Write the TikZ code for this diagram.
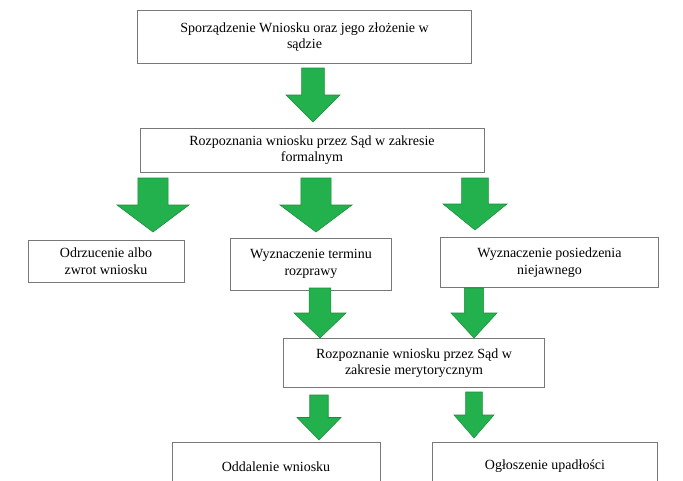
\documentclass[tikz,border=0pt]{standalone}
\usepackage{fontspec}
\setmainfont{Liberation Serif}
\usetikzlibrary{positioning}
\definecolor{arrowgreen}{RGB}{34,177,76}
\definecolor{boxline}{RGB}{120,120,120}
\tikzset{
  box/.style={draw=boxline, line width=0.6pt, fill=white, align=center,
    font=\fontsize{10.5}{12.5}\selectfont, inner sep=2pt},
  downarrow/.style={fill=arrowgreen, draw=arrowgreen!80!black, line width=0.4pt}
}
% #1 centre x, #2 top y, #3 bottom y, #4 head half width
\newcommand{\greendown}[4]{%
  \draw[downarrow] ({#1-#4*0.42},#2) -- ({#1+#4*0.42},#2)
    -- ({#1+#4*0.42},{#2+(#3-#2)*0.5}) -- ({#1+#4},{#2+(#3-#2)*0.5})
    -- (#1,#3) -- ({#1-#4},{#2+(#3-#2)*0.5})
    -- ({#1-#4*0.42},{#2+(#3-#2)*0.5}) -- cycle;}
\begin{document}
\begin{tikzpicture}[x=0.75pt,y=-0.75pt]
\useasboundingbox[fill=white] (0,0) rectangle (683,480);

% boxes
\node[box, minimum width=251pt, minimum height=40pt] (sporz) at (304.5,37) {Sporządzenie Wniosku oraz jego złożenie w\\sądzie};
\node[box, minimum width=258pt, minimum height=33pt] (formal) at (312,150) {Rozpoznania wniosku przez Sąd w zakresie\\formalnym};
\node[box, minimum width=117pt, minimum height=32pt] (odrz) at (106,261.5) {Odrzucenie albo\\zwrot wniosku};
\node[box, minimum width=121pt, minimum height=39pt] (termin) at (311,264) {Wyznaczenie terminu\\rozprawy};
\node[box, minimum width=164pt, minimum height=37pt] (posiedz) at (549.5,262.5) {Wyznaczenie posiedzenia\\niejawnego};
\node[box, minimum width=196pt, minimum height=37pt] (meryt) at (414,363) {Rozpoznanie wniosku przez Sąd w\\zakresie merytorycznym};
\node[box, minimum width=156pt, minimum height=36pt, anchor=north] (oddal) at (276,442) {Oddalenie wniosku};
\node[box, minimum width=169pt, minimum height=36pt, anchor=north] (upadl) at (545,442) {Ogłoszenie upadłości};

% arrows
\greendown{313}{68}{122}{27}
\greendown{153}{178}{232}{36}
\greendown{316}{178}{232}{36}
\greendown{475}{178}{230}{32}
\greendown{320}{288}{338}{26}
\greendown{474}{288}{338}{23}
\greendown{319}{395}{440}{22}
\greendown{474}{392}{438}{20}
\end{tikzpicture}
\end{document}
